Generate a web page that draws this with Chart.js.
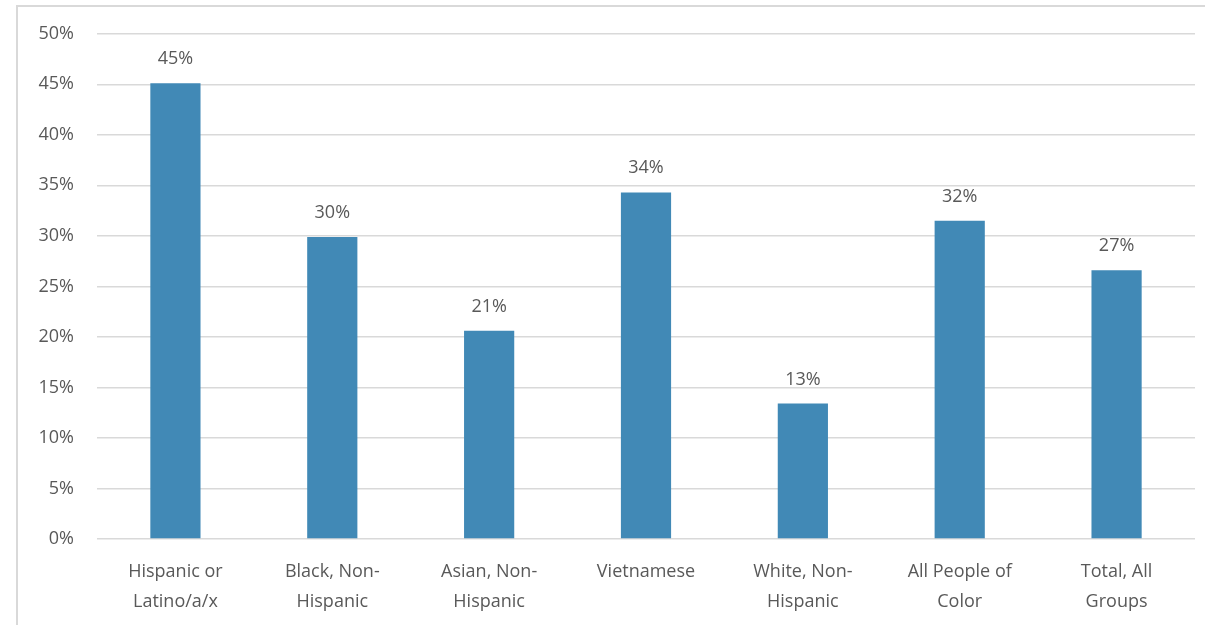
<!DOCTYPE html>
<html>
<head>
<meta charset="utf-8">
<script src="https://cdn.jsdelivr.net/npm/chart.js@4.4.1/dist/chart.umd.min.js"></script>
<style>
  html, body { margin: 0; padding: 0; background: #fff; }
  /* light frame like the copied spreadsheet chart */
  .frame {
    position: absolute; left: 16px; top: 5px; width: 1189px; height: 620px;
    border-left: 2px solid #d9d9d9; border-top: 2px solid #d9d9d9;
  }
  canvas { position: absolute; left: 0; top: 0; }
</style>
</head>
<body>
<div class="frame"></div>
<canvas id="groupsChart" width="1205" height="625"></canvas>
<script>
  // categories and values (percent)
  const groups = [
    ['Hispanic or', 'Latino/a/x'],
    ['Black, Non-', 'Hispanic'],
    ['Asian, Non-', 'Hispanic'],
    'Vietnamese',
    ['White, Non-', 'Hispanic'],
    ['All People of', 'Color'],
    ['Total, All', 'Groups']
  ];
  const shares = [45.1, 29.9, 20.6, 34.3, 13.4, 31.5, 26.6];
  const yTicks = [0, 5, 10, 15, 20, 25, 30, 35, 40, 45, 50];

  const textGrey = '#595959';
  const fontFamily = '"Open Sans", "Noto Sans", sans-serif';

  // value labels above bars
  const barLabels = {
    id: 'barLabels',
    afterDatasetsDraw(chart) {
      const ctx = chart.ctx;
      const meta = chart.getDatasetMeta(0);
      ctx.save();
      ctx.fillStyle = textGrey;
      ctx.font = '18px ' + fontFamily;
      ctx.textAlign = 'center';
      ctx.textBaseline = 'alphabetic';
      meta.data.forEach((bar, i) => {
        ctx.fillText(Math.round(shares[i]) + '%', bar.x, bar.y - 19);
      });
      ctx.restore();
    }
  };

  const ctx = document.getElementById('groupsChart').getContext('2d');
  new Chart(ctx, {
    type: 'bar',
    data: {
      labels: groups,
      datasets: [{
        data: shares,
        backgroundColor: '#4189b6',
        categoryPercentage: 1,
        barPercentage: 0.32
      }]
    },
    options: {
      responsive: false,
      animation: false,
      layout: { padding: { left: 0, right: 10, top: 20, bottom: 0 } },
      plugins: {
        legend: { display: false },
        tooltip: { enabled: false }
      },
      scales: {
        y: {
          min: 0,
          max: 50,
          afterBuildTicks: (scale) => { scale.ticks = yTicks.map(v => ({ value: v })); },
          afterFit: (scale) => { scale.width = 97; },
          border: { display: false },
          grid: { color: '#d9d9d9', lineWidth: 1.5, drawTicks: false },
          ticks: {
            color: textGrey,
            font: { size: 18, family: fontFamily },
            padding: 23,
            callback: (v) => v + '%'
          }
        },
        x: {
          afterFit: (scale) => { scale.height = 86; },
          border: { display: false },
          grid: { display: false, drawTicks: false },
          ticks: {
            color: textGrey,
            font: { size: 18, family: fontFamily, lineHeight: 1.65 },
            padding: 18,
            maxRotation: 0,
            autoSkip: false
          }
        }
      }
    },
    plugins: [barLabels]
  });
</script>
</body>
</html>
